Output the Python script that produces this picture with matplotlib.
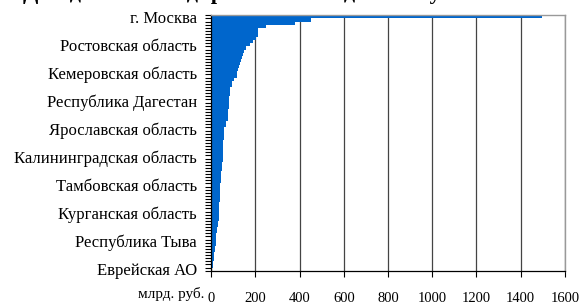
import matplotlib
matplotlib.use("Agg")
import matplotlib.pyplot as plt
import numpy as np

regions = [
    "г. Москва", "Московская область", "г. Санкт-Петербург", "Ханты-Мансийский АО",
    "Республика Татарстан", "Краснодарский край", "Ямало-Ненецкий АО", "Свердловская область",
    "Республика Башкортостан", "Ростовская область", "Красноярский край", "Самарская область",
    "Челябинская область", "Нижегородская область", "Пермский край", "Тюменская область",
    "Новосибирская область", "Иркутская область", "Кемеровская область", "Республика Саха (Якутия)",
    "Ленинградская область", "Оренбургская область", "Приморский край", "Хабаровский край",
    "Белгородская область", "Волгоградская область", "Саратовская область", "Республика Дагестан",
    "Воронежская область", "Омская область", "Сахалинская область", "Ставропольский край",
    "Алтайский край", "Республика Коми", "Удмуртская Республика", "Тульская область",
    "Ярославская область", "Вологодская область", "Липецкая область", "Калужская область",
    "Томская область", "Архангельская область", "Тверская область", "Владимирская область",
    "Чеченская Республика", "Калининградская область", "Мурманская область", "Республика Бурятия",
    "Кировская область", "Пензенская область", "Ульяновская область", "Чувашская Республика",
    "Курская область", "Брянская область", "Тамбовская область", "Рязанская область",
    "Забайкальский край", "Смоленская область", "Астраханская область", "Камчатский край",
    "Республика Мордовия", "Ивановская область", "Республика Карелия", "Курганская область",
    "Орловская область", "Республика Марий Эл", "Кабардино-Балкарская Республика", "Костромская область",
    "Новгородская область", "Магаданская область", "Амурская область", "Республика Хакасия",
    "Республика Тыва", "Псковская область", "Республика Северная Осетия - Алания", "Чукотский АО",
    "Республика Адыгея", "Карачаево-Черкесская Республика", "Ненецкий АО", "Республика Калмыкия",
    "Республика Алтай", "Еврейская АО",
]
revenues = [
    1495, 452, 380, 249, 214, 213, 211, 205, 192, 176,
    158, 151, 143, 141, 134, 132, 125, 123, 117, 116,
    106, 95, 93, 87, 86, 86, 82, 81, 80, 80,
    77, 76, 76, 75, 67, 66, 61, 60, 59, 57,
    56, 56, 55, 55, 54, 53, 52, 49, 48, 48,
    47, 47, 46, 45, 42, 41, 41, 40, 40, 39,
    37, 36, 36, 35, 35, 34, 31, 30, 29, 27,
    24, 23, 22, 22, 17, 16, 15, 15, 14, 10,
    9, 5,
]
x_ticks = [0, 200, 400, 600, 800, 1000, 1200, 1400, 1600]
title = "Доходы консолидированных бюджетов субъектов РФ"
unit = "млрд. руб."

plt.rcParams['font.family'] = ['Liberation Serif', 'DejaVu Serif']

fig = plt.figure(figsize=(5.82, 3.04), dpi=100)
ax = fig.add_axes([211/582, 1-270.7/304, (565-211)/582, (270.7-15.3)/304])

n = len(regions)
pos = np.arange(n)
ax.barh(pos, revenues, height=1.0, color="#0066CC", linewidth=0)
ax.set_ylim(n - 0.5, -0.5)
ax.set_xlim(0, 1600)

ax.set_xticks(x_ticks)
ax.set_xticklabels([str(v) for v in x_ticks], fontsize=10.5)
label_idx = list(range(0, n, 9))
ax.set_yticks(label_idx)
ax.set_yticklabels([regions[i] for i in label_idx], fontsize=12)
ax.set_yticks(np.arange(-0.5, n, 1), minor=True)
ax.tick_params(axis='y', which='major', length=0, pad=10)
ax.tick_params(axis='y', which='minor', length=4, width=0.8, color='black', direction='out')
ax.tick_params(axis='x', which='major', length=4, width=0.8, color='black', direction='out', pad=11)

ax.xaxis.grid(True, color='#444444', linewidth=0.9)
ax.set_axisbelow(True)
for s in ['top', 'right']:
    ax.spines[s].set_color('#999999')
    ax.spines[s].set_linewidth(1.0)
for s in ['left', 'bottom']:
    ax.spines[s].set_color('black')
    ax.spines[s].set_linewidth(0.9)

fig.text(204/582, 1-294/304, unit, fontsize=11, ha='right', va='center')
fig.text(0.5, 1+0.5/304, title, fontsize=16, fontweight='bold', ha='center', va='baseline')

fig.savefig("out.png", dpi=100)
